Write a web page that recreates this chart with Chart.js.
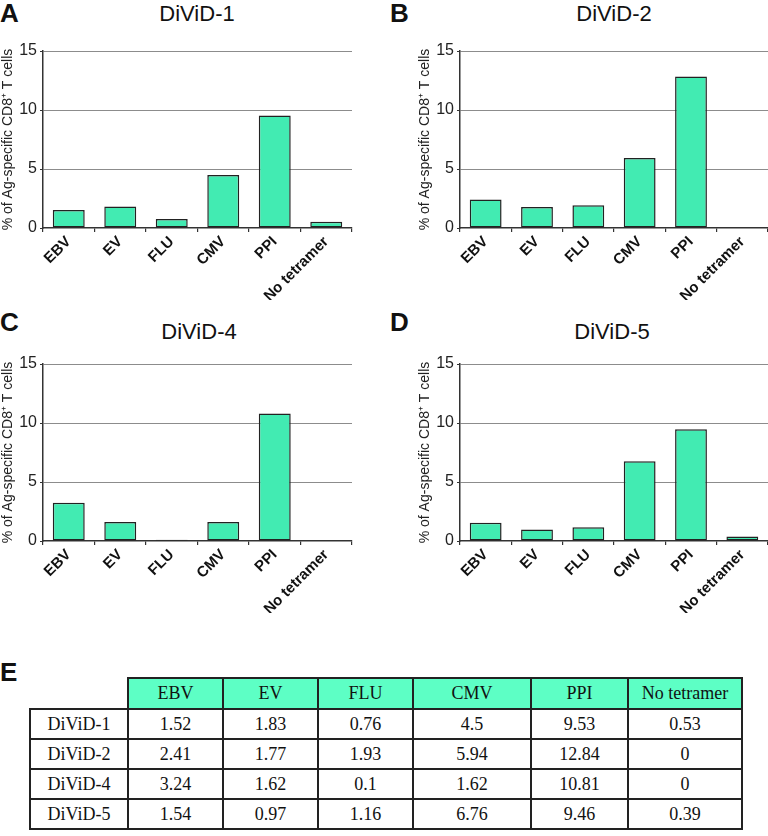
<!DOCTYPE html>
<html>
<head>
<meta charset="utf-8">
<script src="https://cdn.jsdelivr.net/npm/chart.js@4.4.0/dist/chart.umd.min.js"></script>
<style>
  body { margin: 0; background: #fff; width: 768px; height: 836px; position: relative; overflow: hidden; font-family: "Liberation Sans", Arial, sans-serif; }
  canvas { position: absolute; }
  .letter { position: absolute; font-weight: bold; font-size: 26px; color: #111; line-height: 1; }
  .title { position: absolute; font-size: 22px; color: #111; transform: translate(-50%, -50%); white-space: nowrap; }
  table { position: absolute; left: 29px; top: 677px; width: 712px; table-layout: fixed; border-collapse: collapse; font-family: "Liberation Serif", "Times New Roman", serif; font-size: 18px; color: #111; }
  td { border: 2px solid #222; text-align: center; height: 29px; padding: 0; box-sizing: border-box; }
  td.blank { border-top: none; border-left: none; }
  td.head { background: #5dffc5; }
</style>
</head>
<body>
<div class="letter" style="left:0px;top:0px;">A</div>
<div class="letter" style="left:390px;top:0px;">B</div>
<div class="letter" style="left:0px;top:309px;">C</div>
<div class="letter" style="left:390px;top:309px;">D</div>
<div class="letter" style="left:0px;top:659px;">E</div>

<div class="title" style="left:197px;top:14px;">DiViD-1</div>
<div class="title" style="left:614px;top:14px;">DiViD-2</div>
<div class="title" style="left:199px;top:332px;">DiViD-4</div>
<div class="title" style="left:612px;top:332px;">DiViD-5</div>

<canvas id="graph1" width="384" height="300" style="left:0px;top:0px;"></canvas>
<canvas id="graph2" width="351" height="300" style="left:417px;top:0px;"></canvas>
<canvas id="graph3" width="384" height="300" style="left:0px;top:313px;"></canvas>
<canvas id="graph4" width="351" height="300" style="left:417px;top:313px;"></canvas>

<table id="values"></table>

<script>
const categories = ['EBV', 'EV', 'FLU', 'CMV', 'PPI', 'No tetramer'];
const donors = ['DiViD-1', 'DiViD-2', 'DiViD-4', 'DiViD-5'];
const divid1 = [1.52, 1.83, 0.76, 4.5, 9.53, 0.53];
const divid2 = [2.41, 1.77, 1.93, 5.94, 12.84, 0];
const divid4 = [3.24, 1.62, 0.1, 1.62, 10.81, 0];
const divid5 = [1.54, 0.97, 1.16, 6.76, 9.46, 0.39];
const yTicks = [0, 5, 10, 15];

const barFill = '#42ebb2';
const axisColor = '#333';

function makeChart(id, values, rightPad) {
  const ctx = document.getElementById(id).getContext('2d');
  return new Chart(ctx, {
    type: 'bar',
    data: {
      labels: categories,
      datasets: [{
        data: values,
        backgroundColor: barFill,
        borderColor: '#222',
        borderWidth: 1.5,
        borderSkipped: false,
        categoryPercentage: 1,
        barPercentage: 0.62
      }]
    },
    options: {
      responsive: false,
      animation: false,
      layout: { padding: { top: 51, right: rightPad, left: 0, bottom: 0 } },
      plugins: { legend: { display: false }, tooltip: { enabled: false } },
      scales: {
        x: {
          afterFit: function(scale) { scale.height = 72; },
          border: { color: axisColor, width: 1.5 },
          grid: { drawOnChartArea: false, drawTicks: true, tickLength: 4, color: axisColor, lineWidth: 1.2 },
          ticks: {
            color: '#111',
            font: { family: '"Liberation Sans", Arial', size: 15, weight: 'bold' },
            minRotation: 45,
            maxRotation: 45,
            padding: 1
          }
        },
        y: {
          min: 0,
          max: 15,
          afterFit: function(scale) { scale.width = 43; },
          afterBuildTicks: function(scale) { scale.ticks = yTicks.map(v => ({ value: v })); },
          border: { color: axisColor, width: 1.5 },
          grid: {
            color: ctx => ctx.tick && ctx.tick.value === 0 ? 'rgba(0,0,0,0)' : '#8c8c8c',
            lineWidth: 1,
            borderDash: [1, 1],
            tickLength: 3,
            tickColor: axisColor,
            tickBorderDash: [0, 0]
          },
          ticks: {
            color: '#222',
            font: { family: '"Liberation Sans", Arial', size: 16 },
            padding: 3
          },
          title: {
            display: true,
            text: '% of Ag-specific CD8\u207A T cells',
            color: '#222',
            font: { family: '"Liberation Sans", Arial', size: 14 },
            padding: { top: 0, bottom: 0 }
          }
        }
      }
    }
  });
}

makeChart('graph1', divid1, 32);
makeChart('graph2', divid2, 0);
makeChart('graph3', divid4, 32);
makeChart('graph4', divid5, 0);

// table of values
const colWidths = [98, 95, 95, 95, 118, 97, 114];
const table = document.getElementById('values');
let html = '<tr><td class="blank" style="width:' + colWidths[0] + 'px"></td>';
categories.forEach((c, i) => {
  html += '<td class="head" style="width:' + colWidths[i + 1] + 'px;height:31px">' + c + '</td>';
});
html += '</tr>';
[divid1, divid2, divid4, divid5].forEach((row, r) => {
  html += '<tr><td style="height:30px">' + donors[r] + '</td>';
  row.forEach(v => { html += '<td style="height:30px">' + v + '</td>'; });
  html += '</tr>';
});
table.innerHTML = html;
</script>
</body>
</html>
